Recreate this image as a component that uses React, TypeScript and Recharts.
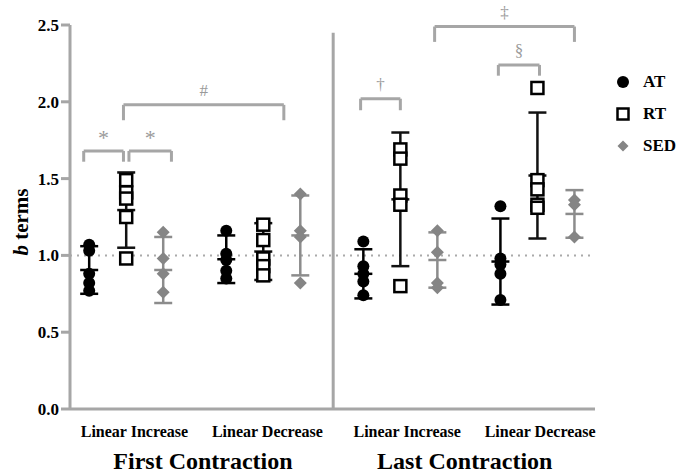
import { ScatterChart, Scatter, XAxis, YAxis, ErrorBar, ReferenceLine, Label, Legend } from 'recharts';

const FONT = "'Liberation Serif', 'Times New Roman', serif";
const AXIS_GREY = '#a6a6a6';
const SED_GREY = '#858585';

const categories = ['Linear Increase', 'Linear Decrease', 'Linear Increase', 'Linear Decrease'];
const contractions = ['First Contraction', 'Last Contraction'];
const groupNames = ['AT', 'RT', 'SED'];
const yTicks = [0, 0.5, 1, 1.5, 2, 2.5];

// individual b terms, one list per condition
const atValues = [
  [1.07, 1.03, 0.88, 0.82, 0.77],
  [1.16, 1.01, 0.97, 0.9, 0.85],
  [1.09, 0.93, 0.88, 0.83, 0.74],
  [1.32, 0.98, 0.94, 0.88, 0.71],
];
const rtValues = [
  [1.49, 1.41, 1.37, 1.25, 0.98],
  [1.2, 1.1, 0.98, 0.93, 0.87],
  [1.69, 1.63, 1.39, 1.33, 0.8],
  [2.09, 1.49, 1.43, 1.33, 1.31],
];
const sedValues = [
  [1.15, 0.98, 0.88, 0.76],
  [1.4, 1.16, 1.12, 0.82],
  [1.16, 1.02, 0.82, 0.79],
  [1.36, 1.33, 1.12],
];

// mean and SD
const atMean = [0.905, 0.975, 0.88, 0.96];
const atSd = [0.155, 0.155, 0.16, 0.28];
const rtMean = [1.295, 1.025, 1.365, 1.52];
const rtSd = [0.245, 0.185, 0.435, 0.41];
const sedMean = [0.905, 1.13, 0.97, 1.27];
const sedSd = [0.215, 0.26, 0.18, 0.155];

// significance brackets (x in category units, y in b units)
const brackets = [
  { x1: -0.31, x2: -0.02, y: 1.68, drop: 0.07, label: '*' },
  { x1: 0.02, x2: 0.33, y: 1.68, drop: 0.07, label: '*' },
  { x1: -0.02, x2: 1.15, y: 1.98, drop: 0.1, label: '#' },
  { x1: 1.71, x2: 2.0, y: 2.02, drop: 0.075, label: '†' },
  { x1: 2.25, x2: 3.27, y: 2.49, drop: 0.1, label: '‡' },
  { x1: 2.715, x2: 3.015, y: 2.24, drop: 0.07, label: '§' },
];

const OFFSET = { AT: -0.27, RT: 0, SED: 0.27 };
const X_DOMAIN = [-0.41, 3.42];
const DIVIDER = 1.51;
const CATEGORY_TICKS = [0.06, 1.03, 2.05, 3.02];
const CONTRACTION_TICKS = [0.56, 2.47];

const toPoints = (vals: number[][], off: number) =>
  vals.flatMap((arr, i) => arr.map((v) => ({ x: i + off, y: v })));
const toMeans = (means: number[], sds: number[], off: number) =>
  means.map((m, i) => ({ x: i + off, y: m, sd: sds[i] }));

const circleShape = (p: any) => <circle cx={p.cx} cy={p.cy} r={6} fill="#000" />;
const squareShape = (p: any) => (
  <rect x={p.cx - 6} y={p.cy - 6} width={12} height={12} fill="#fff" stroke="#000" strokeWidth={2.5} />
);
const diamondShape = (p: any) => (
  <polygon
    points={`${p.cx},${p.cy - 6.5} ${p.cx + 6.5},${p.cy} ${p.cx},${p.cy + 6.5} ${p.cx - 6.5},${p.cy}`}
    fill={SED_GREY}
  />
);
const meanShape = (color: string) => (p: any) => (
  <line x1={p.cx - 9} x2={p.cx + 9} y1={p.cy} y2={p.cy} stroke={color} strokeWidth={2.5} />
);

const legendIcon = (name: string) => {
  if (name === 'AT') return <circle cx={7} cy={7} r={6} fill="#000" />;
  if (name === 'RT') return <rect x={1.5} y={1.5} width={11} height={11} fill="#fff" stroke="#000" strokeWidth={2.5} />;
  return <polygon points="7,1.5 12.5,7 7,12.5 1.5,7" fill={SED_GREY} />;
};

const renderLegend = (props: any) => {
  const items = (props.payload || []).filter((e: any) => groupNames.includes(e.value));
  return (
    <div style={{ fontFamily: FONT, fontWeight: 'bold', fontSize: 17 }}>
      {items.map((entry: any) => (
        <div key={entry.value} style={{ display: 'flex', alignItems: 'center', height: 32 }}>
          <svg width={14} height={14} style={{ marginRight: 13 }}>
            {legendIcon(entry.value)}
          </svg>
          <span>{entry.value}</span>
        </div>
      ))}
    </div>
  );
};

const YLabel = (props: any) => {
  const { x, y, height } = props.viewBox;
  const cx = x + 11;
  const cy = y + height / 2 + 5;
  return (
    <text
      x={cx}
      y={cy}
      transform={`rotate(-90 ${cx} ${cy})`}
      textAnchor="middle"
      dominantBaseline="central"
      fontFamily={FONT}
      fontWeight="bold"
      fontSize={21}
      fill="#000"
    >
      <tspan fontStyle="italic">b</tspan> terms
    </text>
  );
};

export default function App() {
  return (
    <div style={{ position: 'absolute', left: 0, top: 0 }}>
      <ScatterChart width={688} height={476} margin={{ top: 25, right: 93, left: 10, bottom: 0 }}>
        <XAxis
          type="number"
          dataKey="x"
          domain={X_DOMAIN}
          allowDataOverflow
          ticks={CATEGORY_TICKS}
          interval={0}
          tickFormatter={(v: number) => categories[Math.round(v)]}
          tickSize={0}
          tickMargin={17}
          height={30}
          axisLine={{ stroke: AXIS_GREY, strokeWidth: 3 }}
          tick={{ fill: '#000', fontFamily: FONT, fontWeight: 'bold', fontSize: 16 }}
        />
        <XAxis
          xAxisId="group"
          type="number"
          dataKey="x"
          domain={X_DOMAIN}
          allowDataOverflow
          ticks={CONTRACTION_TICKS}
          interval={0}
          tickFormatter={(v: number) => contractions[v < 1.5 ? 0 : 1]}
          tickSize={0}
          tickMargin={13}
          height={37}
          axisLine={false}
          tickLine={false}
          tick={{ fill: '#000', fontFamily: FONT, fontWeight: 'bold', fontSize: 24 }}
        />
        <YAxis
          type="number"
          dataKey="y"
          domain={[0, 2.5]}
          allowDataOverflow
          ticks={yTicks}
          interval={0}
          width={60}
          tickFormatter={(v: number) => v.toFixed(1)}
          tickSize={9}
          axisLine={{ stroke: AXIS_GREY, strokeWidth: 3 }}
          tickLine={{ stroke: AXIS_GREY, strokeWidth: 3 }}
          tick={{ fill: '#000', fontFamily: FONT, fontWeight: 'bold', fontSize: 17 }}
        >
          <Label content={YLabel} />
        </YAxis>

        <ReferenceLine y={1} stroke="#aaaaaa" strokeWidth={2} strokeDasharray="2 5" />
        <ReferenceLine
          segment={[{ x: DIVIDER, y: 0 }, { x: DIVIDER, y: 2.45 }]}
          stroke={AXIS_GREY}
          strokeWidth={3}
        />

        {brackets.flatMap((b, i) => [
          <ReferenceLine
            key={`l${i}`}
            segment={[{ x: b.x1, y: b.y - b.drop }, { x: b.x1, y: b.y }]}
            stroke={AXIS_GREY}
            strokeWidth={3}
          />,
          <ReferenceLine
            key={`t${i}`}
            segment={[{ x: b.x1, y: b.y }, { x: b.x2, y: b.y }]}
            stroke={AXIS_GREY}
            strokeWidth={3}
          >
            <Label
              value={b.label}
              position="top"
              offset={b.label === '*' ? 6 : 9}
              fill="#9a9a9a"
              fontFamily={FONT}
              fontSize={b.label === '*' ? 22 : 17}
            />
          </ReferenceLine>,
          <ReferenceLine
            key={`r${i}`}
            segment={[{ x: b.x2, y: b.y - b.drop }, { x: b.x2, y: b.y }]}
            stroke={AXIS_GREY}
            strokeWidth={3}
          />,
        ])}

        <Scatter data={toMeans(atMean, atSd, OFFSET.AT)} shape={meanShape('#000')} legendType="none" isAnimationActive={false}>
          <ErrorBar dataKey="sd" direction="y" width={9} stroke="#000" strokeWidth={2.5} />
        </Scatter>
        <Scatter data={toMeans(rtMean, rtSd, OFFSET.RT)} shape={meanShape('#111')} legendType="none" isAnimationActive={false}>
          <ErrorBar dataKey="sd" direction="y" width={9} stroke="#111" strokeWidth={2.5} />
        </Scatter>
        <Scatter data={toMeans(sedMean, sedSd, OFFSET.SED)} shape={meanShape('#8c8c8c')} legendType="none" isAnimationActive={false}>
          <ErrorBar dataKey="sd" direction="y" width={9} stroke="#8c8c8c" strokeWidth={2.5} />
        </Scatter>

        <Scatter name="AT" data={toPoints(atValues, OFFSET.AT)} shape={circleShape} fill="#000" isAnimationActive={false} />
        <Scatter name="RT" data={toPoints(rtValues, OFFSET.RT)} shape={squareShape} fill="#000" isAnimationActive={false} />
        <Scatter name="SED" data={toPoints(sedValues, OFFSET.SED)} shape={diamondShape} fill={SED_GREY} isAnimationActive={false} />

        <Legend
          layout="vertical"
          align="center"
          verticalAlign="middle"
          content={renderLegend}
          wrapperStyle={{ left: 616, top: 66, width: 72 }}
        />
      </ScatterChart>
    </div>
  );
}
